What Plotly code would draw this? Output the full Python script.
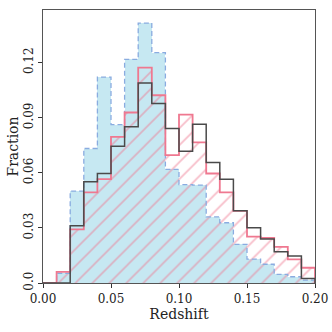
import numpy as np
import plotly.graph_objects as go

# bin edges and per-bin fractions
edges = [round(0.01 * i, 2) for i in range(21)]
frac_blue = [0.0, 0.0053, 0.050, 0.0732, 0.1121, 0.0862, 0.1217, 0.1415, 0.1254, 0.0618,
             0.0536, 0.0533, 0.0360, 0.0328, 0.0210, 0.0130, 0.0102, 0.0047, 0.0034, 0.0016]
frac_pink = [0.0, 0.0061, 0.0292, 0.0493, 0.0565, 0.0795, 0.0928, 0.1172, 0.1022, 0.0696,
             0.0917, 0.0765, 0.0596, 0.0493, 0.0393, 0.0252, 0.0245, 0.0197, 0.0129, 0.0083]
frac_black = [0.0, 0.0, 0.0311, 0.0551, 0.0596, 0.0745, 0.0850, 0.1089, 0.0977, 0.0841,
              0.0717, 0.0864, 0.0656, 0.0565, 0.0393, 0.0301, 0.0240, 0.0170, 0.0147, 0.0025]
y_ticks = [0.0, 0.03, 0.06, 0.09, 0.12]
y_tick_text = ["0.0", "0.03", "0.06", "0.09", "0.12"]
x_ticks = [0.0, 0.05, 0.10, 0.15, 0.20]
x_tick_text = ["0.00", "0.05", "0.10", "0.15", "0.20"]

centers = [(a + b) / 2 for a, b in zip(edges[:-1], edges[1:])]
width = edges[1] - edges[0]

BLUE_FILL = "#c6e8f2"
BLUE_EDGE = "#8aace0"
PINK = "#ef7890"
BLACK = "#4a4a4a"


def step_xy(vals):
    # outline of a histogram like matplotlib histtype='step'
    x = [edges[0]] + list(edges)
    y = [0] + list(vals) + [0]
    return x, y


fig = go.Figure()

# blue filled histogram
fig.add_trace(go.Bar(x=centers, y=frac_blue, width=width,
                     marker=dict(color=BLUE_FILL, line=dict(width=0))))
# pink hatched histogram
fig.add_trace(go.Bar(x=centers, y=frac_pink, width=width,
                     marker=dict(color="rgba(0,0,0,0)", line=dict(width=0),
                                 pattern=dict(shape="/", fgcolor=PINK, bgcolor="rgba(0,0,0,0)",
                                              size=12, solidity=0.14, fillmode="overlay"))))

bx, by = step_xy(frac_blue)
fig.add_trace(go.Scatter(x=bx, y=by, mode="lines", line_shape="hv",
                         line=dict(color=BLUE_EDGE, width=1.3, dash="5px,3px")))
px_, py_ = step_xy(frac_pink)
fig.add_trace(go.Scatter(x=px_, y=py_, mode="lines", line_shape="hv",
                         line=dict(color=PINK, width=1.8)))
kx, ky = step_xy(frac_black)
fig.add_trace(go.Scatter(x=kx, y=ky, mode="lines", line_shape="hv",
                         line=dict(color=BLACK, width=1.5)))

axis_common = dict(showline=True, linecolor="#555555", linewidth=1.2, mirror=True,
                   ticks="outside", ticklen=4, tickcolor="#333333", showgrid=False,
                   zeroline=False, automargin=False, tickfont=dict(size=12, color="#222222"))

fig.update_layout(
    width=332, height=332,
    margin=dict(l=43, r=17, t=10, b=49, autoexpand=False),
    paper_bgcolor="white", plot_bgcolor="white",
    barmode="overlay", bargap=0, showlegend=False,
    font=dict(family="DejaVu Serif", color="#222222"),
    xaxis=dict(range=[0, 0.2], tickvals=x_ticks, ticktext=x_tick_text,
               title=dict(text="Redshift", font=dict(size=14), standoff=4), **axis_common),
    yaxis=dict(range=[0, 0.1486], tickvals=y_ticks, ticktext=y_tick_text, tickangle=-90,
               title=dict(text="Fraction", font=dict(size=14), standoff=0), **axis_common),
)

# the page's default body margin would push the figure 8px right and down
fig.write_html("out.html", config={"displayModeBar": False},
               post_script="document.body.style.margin='0';")
